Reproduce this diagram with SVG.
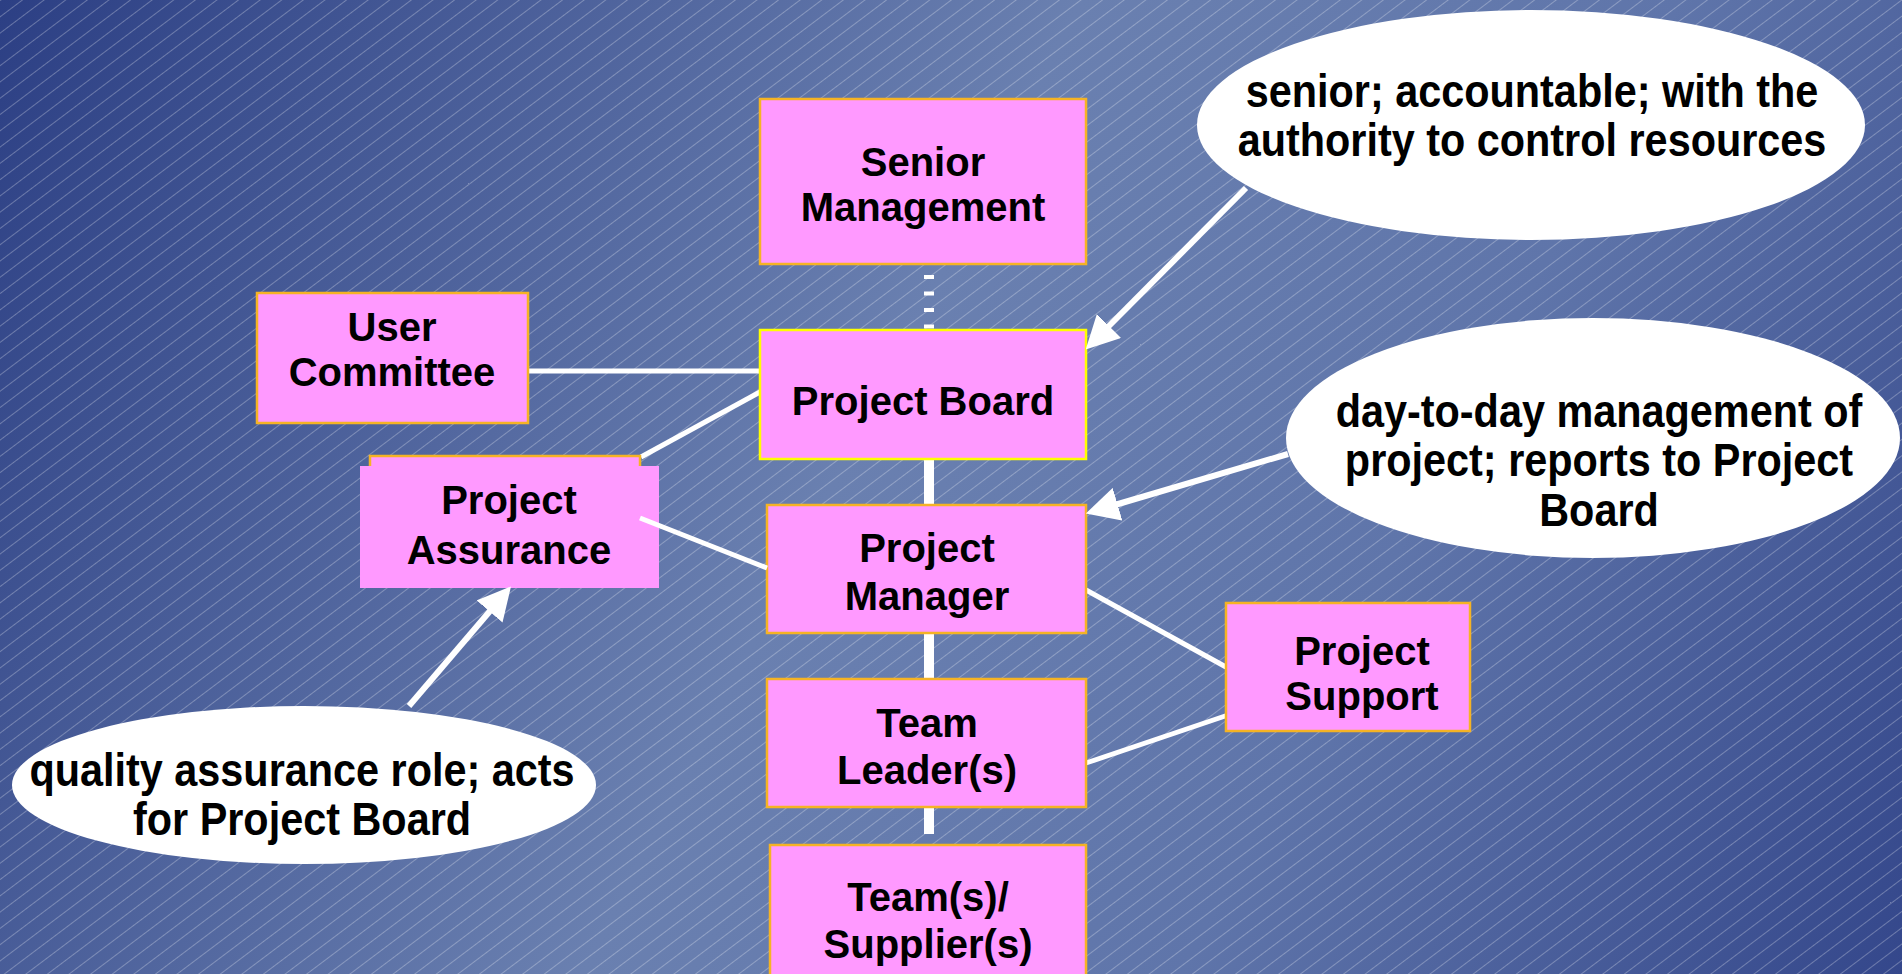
<svg xmlns="http://www.w3.org/2000/svg" width="1902" height="974" viewBox="0 0 1902 974">
<defs>
<linearGradient id="bg" x1="0" y1="0" x2="1902" y2="974" gradientUnits="userSpaceOnUse">
<stop offset="0" stop-color="#2c3f84"/>
<stop offset="0.45" stop-color="#6a80b0"/>
<stop offset="0.7" stop-color="#5f75aa"/>
<stop offset="1" stop-color="#34478b"/>
</linearGradient>
<pattern id="hatch" patternUnits="userSpaceOnUse" width="13" height="20" patternTransform="rotate(53)">
<line x1="0.5" y1="0" x2="0.5" y2="20" stroke="#ffffff" stroke-width="1" stroke-opacity="0.28"/>
</pattern>
<marker id="ah" viewBox="0 0 10 10" refX="3" refY="5" markerWidth="33" markerHeight="34" markerUnits="userSpaceOnUse" orient="auto" preserveAspectRatio="none">
<path d="M0,0 L10,5 L0,10 z" fill="#ffffff"/>
</marker>
<style>
.box{fill:#ff99ff;stroke:#f5b324;stroke-width:2.5}
.pb{fill:#ff99ff;stroke:#ffff00;stroke-width:2.5}
.t{font-family:"Liberation Sans",Arial,sans-serif;font-weight:bold;font-size:40px;fill:#000;text-anchor:middle}
.et{font-family:"Liberation Sans",Arial,sans-serif;font-weight:bold;font-size:46px;fill:#000;text-anchor:middle}
.conn{stroke:#ffffff;stroke-width:5;fill:none}
.trunk{stroke:#ffffff;stroke-width:10;fill:none}
.arr{stroke:#ffffff;stroke-width:6;fill:none;marker-end:url(#ah)}
.ell{fill:#ffffff}
</style>
</defs>
<rect x="0" y="0" width="1902" height="974" fill="url(#bg)"/>
<rect x="0" y="0" width="1902" height="974" fill="url(#hatch)"/>

<g id="connectors">
<line class="trunk" x1="929" y1="275" x2="929" y2="331" stroke-dasharray="4 12.5"/>
<line class="trunk" x1="929" y1="459" x2="929" y2="505"/>
<line class="trunk" x1="929" y1="633" x2="929" y2="679"/>
<line class="trunk" x1="929" y1="807" x2="929" y2="834"/>
<line class="conn" x1="528" y1="371" x2="760" y2="371"/>
<line class="conn" x1="760" y1="392" x2="641" y2="457"/>
<line class="conn" x1="1086" y1="590" x2="1226" y2="667"/>
<line class="conn" x1="1237" y1="712" x2="1086" y2="763"/>
</g>

<g id="senior-management">
<rect class="box" x="760" y="99" width="326" height="165"/>
<text class="t" x="923" y="176">Senior</text>
<text class="t" x="923" y="221">Management</text>
</g>
<g id="user-committee">
<rect class="box" x="257" y="293" width="271" height="130"/>
<text class="t" x="392" y="341">User</text>
<text class="t" x="392" y="386">Committee</text>
</g>
<g id="project-board">
<rect class="pb" x="760" y="330" width="326" height="129"/>
<text class="t" x="923" y="415">Project Board</text>
</g>
<g id="project-assurance">
<rect class="box" x="370" y="456" width="270" height="120"/>
<rect x="360" y="466" width="299" height="122" fill="#ff99ff"/>
<text class="t" x="509" y="514">Project</text>
<text class="t" x="509" y="564">Assurance</text>
</g>
<g id="project-manager">
<rect class="box" x="767" y="505" width="319" height="128"/>
<text class="t" x="927" y="562">Project</text>
<text class="t" x="927" y="610">Manager</text>
</g>
<g id="team-leaders">
<rect class="box" x="767" y="679" width="319" height="128"/>
<text class="t" x="927" y="737">Team</text>
<text class="t" x="927" y="784">Leader(s)</text>
</g>
<g id="teams-suppliers">
<rect class="box" x="770" y="845" width="316" height="140"/>
<text class="t" x="928" y="911">Team(s)/</text>
<text class="t" x="928" y="958">Supplier(s)</text>
</g>
<g id="project-support">
<rect class="box" x="1226" y="603" width="244" height="128"/>
<text class="t" x="1362" y="665">Project</text>
<text class="t" x="1362" y="710">Support</text>
</g>

<g id="connectors-over">
<line class="conn" x1="640" y1="518" x2="767" y2="568"/>
</g>

<g id="note-board">
<ellipse class="ell" cx="1531" cy="125" rx="334" ry="115"/>
<text class="et" transform="translate(1532,0) scale(0.9,1)" x="0" y="107">senior; accountable; with the</text>
<text class="et" transform="translate(1532,0) scale(0.9,1)" x="0" y="156">authority to control resources</text>
</g>
<g id="note-manager">
<ellipse class="ell" cx="1593" cy="438" rx="307" ry="120"/>
<text class="et" transform="translate(1599,0) scale(0.9,1)" x="0" y="427">day-to-day management of</text>
<text class="et" transform="translate(1599,0) scale(0.9,1)" x="0" y="476">project; reports to Project</text>
<text class="et" transform="translate(1599,0) scale(0.9,1)" x="0" y="526">Board</text>
</g>
<g id="note-assurance">
<ellipse class="ell" cx="304" cy="785" rx="292" ry="79"/>
<text class="et" transform="translate(302,0) scale(0.9,1)" x="0" y="786">quality assurance role; acts</text>
<text class="et" transform="translate(302,0) scale(0.9,1)" x="0" y="835">for Project Board</text>
</g>

<g id="arrows">
<line class="arr" x1="1246" y1="188" x2="1102" y2="333"/>
<line class="arr" x1="1288" y1="454" x2="1108" y2="507"/>
<line class="arr" x1="409" y1="706" x2="496" y2="604"/>
</g>
</svg>
